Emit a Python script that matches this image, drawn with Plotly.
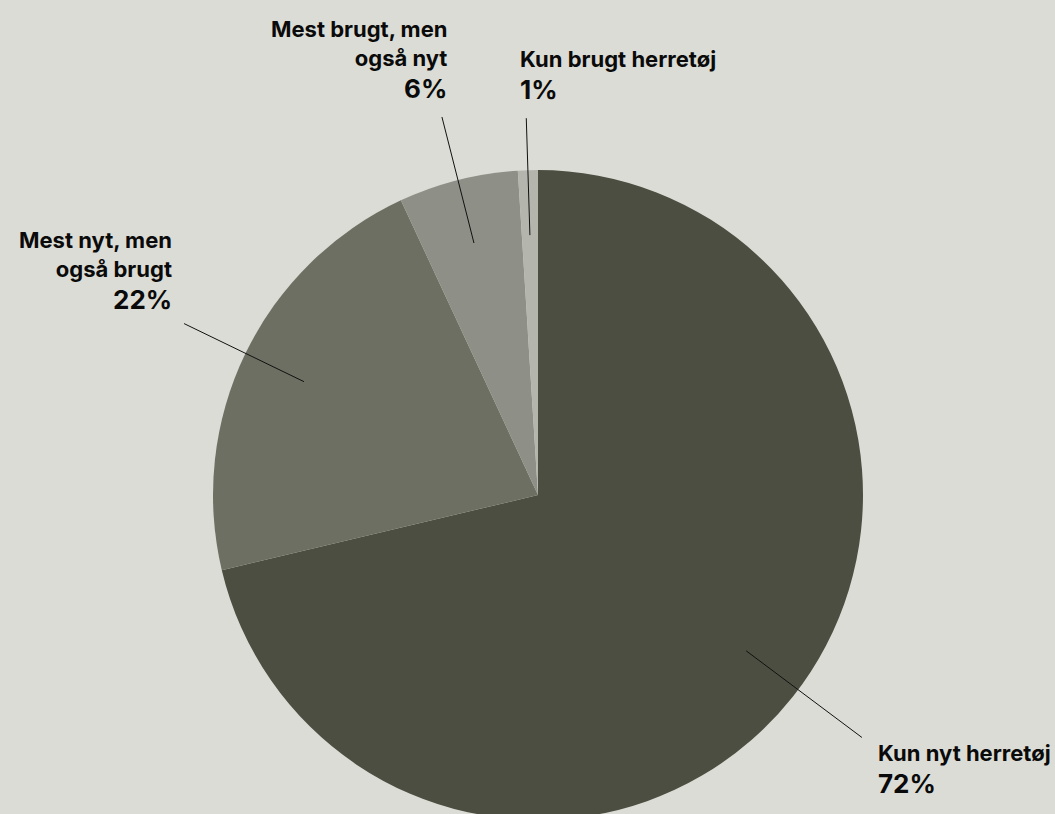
import math
import plotly.graph_objects as go

# Data
categories = ["Kun nyt herretøj", "Mest nyt, men<br>også brugt", "Mest brugt, men<br>også nyt", "Kun brugt herretøj"]
values = [72, 22, 6, 1]
colors = ["#4c4e41", "#6d6f62", "#8e9087", "#b4b6ae"]

W, H = 1055, 820
BG = "#dcdcd6"
cx, cy, r = 538, 495, 325  # pie centre (px from left/top) and radius

# label style: (side, xshift from line end, percent baseline offset below line end,
#               outer radius factor, leader angle tweak in degrees)
label_style = [
    ("left", 15, 56, 1.245, -1.5),
    ("right", -11, -14, 1.21, 0),
    ("right", 6, -19, 1.2, 0),
    ("left", -7, -19, 1.16, 0),
]

fig = go.Figure(go.Pie(
    labels=categories,
    values=values,
    sort=False,
    direction="clockwise",
    rotation=0,
    marker=dict(colors=colors, line=dict(width=0)),
    textinfo="none",
    hoverinfo="label+percent",
    showlegend=False,
    domain=dict(x=[(cx - r) / W, (cx + r) / W], y=[1 - (cy + r) / H, 1 - (cy - r) / H]),
))

total = sum(values)
cum = 0
shapes, annotations = [], []
font = "Inter, Roboto, Arial, sans-serif"
NAME_SIZE, PCT_SIZE = 22, 26
for cat, v, st in zip(categories, values, label_style):
    side, dx, pct_base, fo, tweak = st
    mid = (cum + v / 2) / total * 2 * math.pi + math.radians(tweak)
    cum += v

    def px(f):
        return cx + r * f * math.sin(mid), cy - r * f * math.cos(mid)

    x0, y0 = px(0.8)
    x1, y1 = px(fo)
    shapes.append(dict(type="line", xref="paper", yref="paper",
                       x0=x0 / W, y0=1 - y0 / H, x1=x1 / W, y1=1 - y1 / H,
                       line=dict(color="#111111", width=1)))
    tx = (x1 + dx) / W
    pb = y1 + pct_base
    annotations.append(dict(
        xref="paper", yref="paper", x=tx, y=1 - (pb + 0.25 * PCT_SIZE) / H,
        xanchor=side, yanchor="bottom", align=side, showarrow=False, borderpad=0,
        text=f"<b>{v}%</b>",
        font=dict(family=font, size=PCT_SIZE, color="#0a0a0a"),
    ))
    nb = pb - 32
    annotations.append(dict(
        xref="paper", yref="paper", x=tx, y=1 - (nb + 0.25 * NAME_SIZE) / H,
        xanchor=side, yanchor="bottom", align=side, showarrow=False, borderpad=0,
        text=f"<b>{cat}</b>",
        font=dict(family=font, size=NAME_SIZE, color="#0a0a0a"),
    ))

fig.update_layout(
    width=W, height=H,
    margin=dict(l=0, r=0, t=0, b=0),
    paper_bgcolor=BG, plot_bgcolor=BG,
    shapes=shapes, annotations=annotations,
)
fig.write_html(
    "out.html",
    config={"displayModeBar": False},
    post_script="document.body.style.margin='0';document.body.style.overflow='hidden';"
                "document.body.style.background='#dcdcd6';",
)
